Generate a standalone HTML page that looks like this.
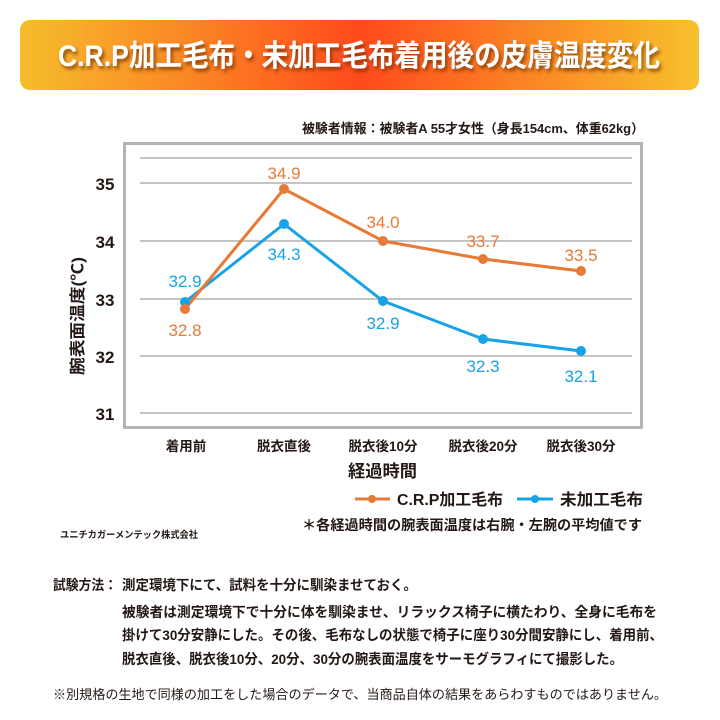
<!DOCTYPE html>
<html><head><meta charset="utf-8"><style>
html,body{margin:0;padding:0;background:#fff;}
svg{display:block;}
text{font-family:"Liberation Sans","Noto Sans CJK JP",sans-serif;}
</style></head><body>
<svg width="720" height="720" viewBox="0 0 720 720" xmlns="http://www.w3.org/2000/svg">
<defs>
<linearGradient id="hg" x1="0" y1="0" x2="1" y2="0">
<stop offset="0" stop-color="#f6bd2b"/>
<stop offset="0.22" stop-color="#fa8d25"/>
<stop offset="0.5" stop-color="#ff4a1c"/>
<stop offset="0.78" stop-color="#fa8d25"/>
<stop offset="1" stop-color="#f8c02c"/>
</linearGradient>
<filter id="sh" x="-5%" y="-30%" width="110%" height="160%">
<feDropShadow dx="2" dy="3" stdDeviation="1.8" flood-color="#6a2d00" flood-opacity="0.75"/>
</filter>
</defs>
<rect x="0" y="0" width="720" height="720" fill="#fff"/>
<!-- header -->
<rect x="20" y="20" width="679" height="70" rx="10" ry="10" fill="url(#hg)"/>
<text x="58" y="66" font-size="30" font-weight="bold" fill="#fff" textLength="602" lengthAdjust="spacingAndGlyphs" filter="url(#sh)">C.R.P加工毛布・未加工毛布着用後の皮膚温度変化</text>

<text x="302" y="133" font-size="13" font-weight="bold" fill="#231815" textLength="342" lengthAdjust="spacingAndGlyphs">被験者情報：被験者A 55才女性（身長154cm、体重62kg）</text>

<!-- chart frame -->
<rect x="124.5" y="143.5" width="517" height="284" fill="#fff" stroke="#b4b4b4" stroke-width="3"/>
<g stroke="#b0b0b0" stroke-width="1.5">
<line x1="140" y1="158" x2="632" y2="158"/>
<line x1="140" y1="183" x2="632" y2="183"/>
<line x1="140" y1="241" x2="632" y2="241"/>
<line x1="140" y1="299" x2="632" y2="299"/>
<line x1="140" y1="356" x2="632" y2="356"/>
<line x1="140" y1="413" x2="632" y2="413"/>
</g>
<g font-size="17" font-weight="bold" fill="#231815" text-anchor="middle">
<text x="105" y="190">35</text>
<text x="105" y="248">34</text>
<text x="105" y="306">33</text>
<text x="105" y="363">32</text>
<text x="105" y="420">31</text>
</g>
<text transform="translate(83,316) rotate(-90)" x="0" y="0" font-size="16" font-weight="bold" fill="#231815" text-anchor="middle" textLength="118" lengthAdjust="spacingAndGlyphs">腕表面温度(℃)</text>

<!-- series -->
<polyline points="185,302 284,224 383,301 483,339 581,351" fill="none" stroke="#18a3e6" stroke-width="3" stroke-linejoin="round"/>
<polyline points="185,309 284,189 383,241 483,259 581,271" fill="none" stroke="#e67a36" stroke-width="3" stroke-linejoin="round"/>
<g fill="#18a3e6">
<circle cx="185" cy="302" r="5"/><circle cx="284" cy="224" r="5"/><circle cx="383" cy="301" r="5"/><circle cx="483" cy="339" r="5"/><circle cx="581" cy="351" r="5"/>
</g>
<g fill="#e67a36">
<circle cx="185" cy="309" r="5"/><circle cx="284" cy="189" r="5"/><circle cx="383" cy="241" r="5"/><circle cx="483" cy="259" r="5"/><circle cx="581" cy="271" r="5"/>
</g>
<g font-size="17" text-anchor="middle" fill="#e67a36">
<text x="185" y="336">32.8</text>
<text x="284" y="179">34.9</text>
<text x="383" y="228">34.0</text>
<text x="483" y="247">33.7</text>
<text x="581" y="261">33.5</text>
</g>
<g font-size="17" text-anchor="middle" fill="#18a3e6">
<text x="185" y="287">32.9</text>
<text x="284" y="260">34.3</text>
<text x="383" y="329">32.9</text>
<text x="483" y="372">32.3</text>
<text x="581" y="382">32.1</text>
</g>

<!-- x labels -->
<g font-size="13.5" font-weight="bold" fill="#231815" text-anchor="middle">
<text x="186" y="451">着用前</text>
<text x="284" y="451">脱衣直後</text>
<text x="383" y="451">脱衣後10分</text>
<text x="483" y="451">脱衣後20分</text>
<text x="581" y="451">脱衣後30分</text>
</g>
<text x="348" y="477" font-size="17" font-weight="bold" fill="#231815" textLength="69" lengthAdjust="spacingAndGlyphs">経過時間</text>

<!-- legend -->
<line x1="355" y1="499" x2="390" y2="499" stroke="#e67a36" stroke-width="3"/>
<circle cx="372" cy="499" r="4" fill="#e67a36"/>
<text x="397" y="505" font-size="16" font-weight="bold" fill="#231815" textLength="106" lengthAdjust="spacingAndGlyphs">C.R.P加工毛布</text>
<line x1="517" y1="499" x2="553" y2="499" stroke="#18a3e6" stroke-width="3"/>
<circle cx="535" cy="499" r="4" fill="#18a3e6"/>
<text x="560" y="505" font-size="16" font-weight="bold" fill="#231815" textLength="83" lengthAdjust="spacingAndGlyphs">未加工毛布</text>

<text x="302" y="530" font-size="14" font-weight="bold" fill="#231815" textLength="340" lengthAdjust="spacingAndGlyphs">＊各経過時間の腕表面温度は右腕・左腕の平均値です</text>
<text x="60" y="538" font-size="9.5" font-weight="bold" fill="#231815" textLength="138" lengthAdjust="spacingAndGlyphs">ユニチカガーメンテック株式会社</text>

<!-- method -->
<g font-size="14" font-weight="bold" fill="#231815">
<text x="53" y="590" textLength="64" lengthAdjust="spacingAndGlyphs">試験方法：</text>
<text x="122" y="590" textLength="295" lengthAdjust="spacingAndGlyphs">測定環境下にて、試料を十分に馴染ませておく。</text>
<text x="122" y="617" textLength="535" lengthAdjust="spacingAndGlyphs">被験者は測定環境下で十分に体を馴染ませ、リラックス椅子に横たわり、全身に毛布を</text>
<text x="122" y="640" textLength="541" lengthAdjust="spacingAndGlyphs">掛けて30分安静にした。その後、毛布なしの状態で椅子に座り30分間安静にし、着用前、</text>
<text x="122" y="664" textLength="501" lengthAdjust="spacingAndGlyphs">脱衣直後、脱衣後10分、20分、30分の腕表面温度をサーモグラフィにて撮影した。</text>
</g>
<text x="53" y="699" font-size="13" fill="#231815" textLength="614" lengthAdjust="spacingAndGlyphs">※別規格の生地で同様の加工をした場合のデータで、当商品自体の結果をあらわすものではありません。</text>
</svg>
</body></html>
